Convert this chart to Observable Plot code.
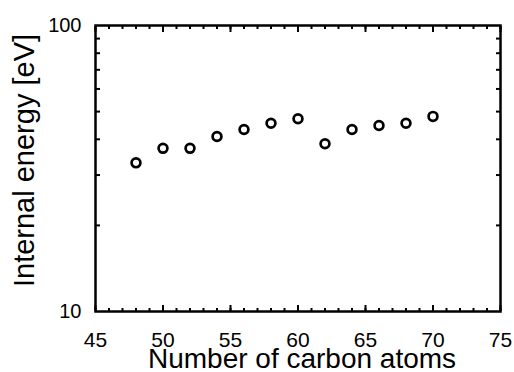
<!DOCTYPE html>
<html>
<head>
<meta charset="utf-8">
<script src="https://cdn.jsdelivr.net/npm/d3@7"></script>
<script src="https://cdn.jsdelivr.net/npm/@observablehq/plot@0.6"></script>
<style>
  html, body { margin: 0; padding: 0; background: white; }
</style>
</head>
<body>
<div id="chart"></div>
<script>
const carbonAtoms = [48, 50, 52, 54, 56, 58, 60, 62, 64, 66, 68, 70];
const internalEnergy = [33.1, 37.2, 37.2, 40.9, 43.3, 45.5, 47.2, 38.6, 43.3, 44.7, 45.5, 48.1];
const xTickLabels = [45, 50, 55, 60, 65, 70, 75];
const xMinorTicks = d3.range(45, 76, 1);
const yTickLabels = [10, 100];
const yMinorTicks = [20, 30, 40, 50, 60, 70, 80, 90];
const xTitle = "Number of carbon atoms";
const yTitle = "Internal energy [eV]";

const data = carbonAtoms.map((n, i) => ({n, e: internalEnergy[i]}));
const blank = () => "";
const font = "'Liberation Sans', Arial, Helvetica, sans-serif";

const chart = Plot.plot({
  width: 514,
  height: 372,
  marginLeft: 95,
  marginRight: 14,
  marginTop: 25,
  marginBottom: 61,
  style: {fontFamily: font, background: "white", color: "black"},
  x: {domain: [45, 75]},
  y: {type: "log", domain: [10, 100]},
  marks: [
    // inward ticks
    Plot.axisX({anchor: "bottom", ticks: xMinorTicks, tickSize: -3, tickFormat: blank, strokeWidth: 2, label: null}),
    Plot.axisX({anchor: "top", ticks: xMinorTicks, tickSize: -3, tickFormat: blank, strokeWidth: 2, label: null}),
    Plot.axisX({anchor: "bottom", ticks: xTickLabels, tickSize: -6, tickFormat: blank, strokeWidth: 2, label: null}),
    Plot.axisX({anchor: "top", ticks: xTickLabels, tickSize: -6, tickFormat: blank, strokeWidth: 2, label: null}),
    Plot.axisY({anchor: "left", ticks: yMinorTicks, tickSize: -5, tickFormat: blank, strokeWidth: 2, label: null}),
    Plot.axisY({anchor: "right", ticks: yMinorTicks, tickSize: -5, tickFormat: blank, strokeWidth: 2, label: null}),
    // tick labels
    Plot.text(xTickLabels, {x: d => d, frameAnchor: "bottom", lineAnchor: "middle", dy: 29, text: d => String(d), fontSize: 21}),
    Plot.text(yTickLabels, {y: d => d, frameAnchor: "left", textAnchor: "end", lineAnchor: "middle", dx: -14, text: d => String(d), fontSize: 20}),
    // axis titles
    Plot.text([xTitle], {frameAnchor: "bottom", textAnchor: "middle", lineAnchor: "middle", dx: 4, dy: 48, fontSize: 28}),
    Plot.text([yTitle], {frameAnchor: "left", textAnchor: "middle", lineAnchor: "middle", rotate: -90, dx: -71, dy: -8, fontSize: 29}),
    Plot.frame({stroke: "black", strokeWidth: 2.5}),
    Plot.dot(data, {x: "n", y: "e", r: 4.4, stroke: "black", strokeWidth: 2.7, fill: "white"})
  ]
});
document.getElementById("chart").appendChild(chart);
</script>
</body>
</html>
